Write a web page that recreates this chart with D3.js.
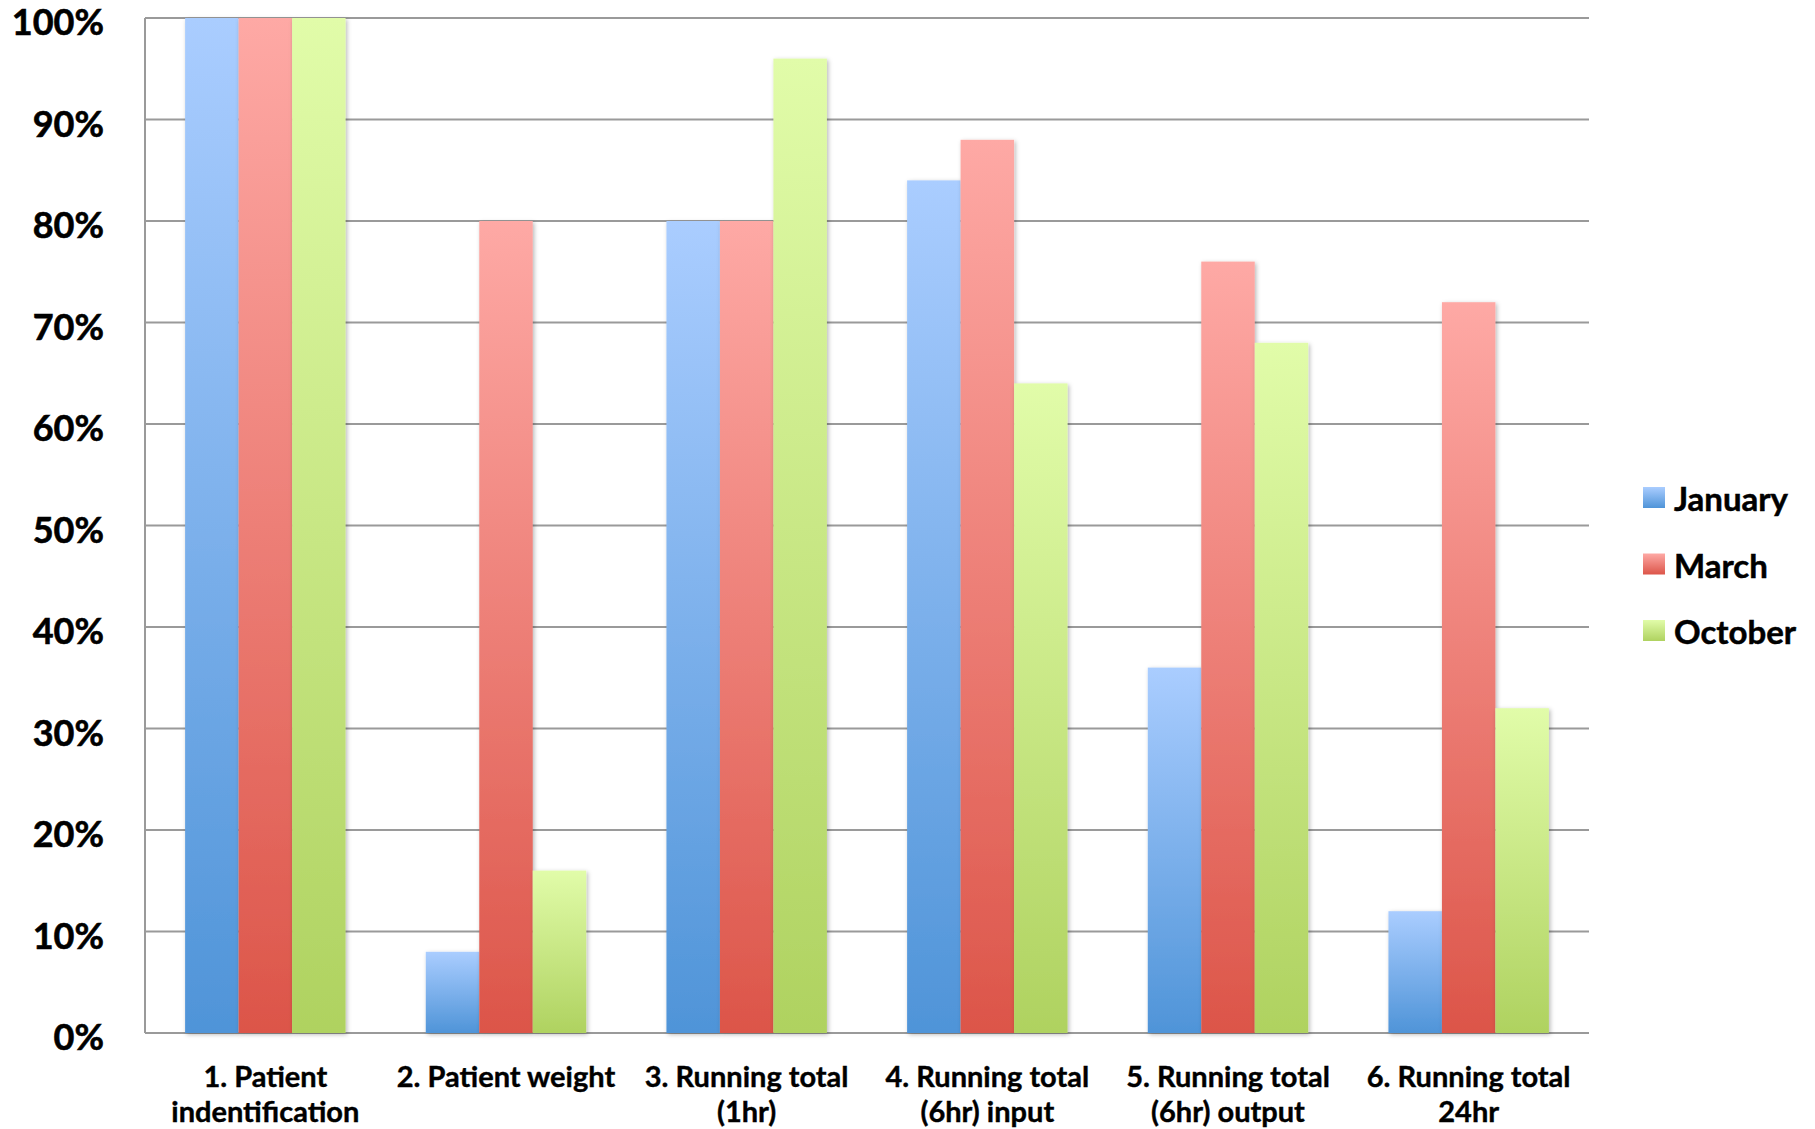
<!DOCTYPE html>
<html>
<head>
<meta charset="utf-8">
<script src="https://cdn.jsdelivr.net/npm/d3@7"></script>
<style>
  body { margin: 0; background: #fff; }
  text { font-family: Lato, "Open Sans", sans-serif; font-weight: bold; fill: #000; }
</style>
</head>
<body>
<script>
// Define data
let categories = [
  ['1. Patient', 'indentification'],
  ['2. Patient weight'],
  ['3. Running total', '(1hr)'],
  ['4. Running total', '(6hr) input'],
  ['5. Running total', '(6hr) output'],
  ['6. Running total', '24hr']
];
let seriesNames = ['January', 'March', 'October'];
let january = [100, 8, 80, 84, 36, 12];
let march   = [100, 80, 80, 88, 76, 72];
let october = [100, 16, 96, 64, 68, 32];
let yTicks = [0, 10, 20, 30, 40, 50, 60, 70, 80, 90, 100];

let seriesValues = [january, march, october];

// colours: top / bottom of each bar gradient
let gradColors = [
  ['#aacdff', '#4f94d8'],
  ['#fea9a5', '#dc5549'],
  ['#e1fca9', '#afd260']
];

let width = 1815, height = 1129;
let margin = { top: 18, bottom: 96, left: 145, right: 226 };

let svg = d3.select('body')
  .append('svg')
  .attr('width', width)
  .attr('height', height);

let defs = svg.append('defs');
gradColors.forEach((c, i) => {
  let g = defs.append('linearGradient')
    .attr('id', 'grad' + i)
    .attr('x1', 0).attr('y1', 0).attr('x2', 0).attr('y2', 1);
  g.append('stop').attr('offset', '0%').attr('stop-color', c[0]);
  g.append('stop').attr('offset', '100%').attr('stop-color', c[1]);
});

let shadow = defs.append('filter')
  .attr('id', 'shadow')
  .attr('x', '-20%').attr('y', '-5%').attr('width', '140%').attr('height', '110%');
shadow.append('feDropShadow')
  .attr('dx', 1.5).attr('dy', 1.5)
  .attr('stdDeviation', 2)
  .attr('flood-color', '#000')
  .attr('flood-opacity', 0.28);

// y scale
let yScale = d3.scaleLinear()
  .domain([0, 100])
  .range([height - margin.bottom, margin.top]);

// x scales
let xScale = d3.scaleBand()
  .domain(d3.range(categories.length))
  .range([margin.left, width - margin.right])
  .paddingInner(1 / 3)
  .paddingOuter(1 / 6);

let xSub = d3.scaleBand()
  .domain(d3.range(seriesNames.length))
  .range([0, xScale.bandwidth()]);

// gridlines
svg.append('g')
  .selectAll('line')
  .data(yTicks)
  .enter()
  .append('line')
  .attr('x1', margin.left)
  .attr('x2', width - margin.right)
  .attr('y1', d => yScale(d))
  .attr('y2', d => yScale(d))
  .style('stroke', '#9a9a9a')
  .style('stroke-width', 2);

// y axis line
svg.append('line')
  .attr('x1', margin.left).attr('x2', margin.left)
  .attr('y1', yScale(100)).attr('y2', yScale(0))
  .style('stroke', '#9a9a9a')
  .style('stroke-width', 2);

// y tick labels
svg.append('g')
  .selectAll('text')
  .data(yTicks)
  .enter()
  .append('text')
  .attr('x', 104)
  .attr('y', d => yScale(d) + 17)
  .attr('text-anchor', 'end')
  .style('font-size', '36px')
  .style('stroke', '#000')
  .style('stroke-width', 0.6)
  .text(d => d + '%');

// bars
let groups = svg.append('g')
  .selectAll('g')
  .data(categories.map((c, i) => i))
  .enter()
  .append('g')
  .attr('transform', i => `translate(${xScale(i)},0)`);

groups.selectAll('rect')
  .data(i => seriesValues.map((vals, s) => ({ s: s, v: vals[i] })))
  .enter()
  .append('rect')
  .attr('x', d => xSub(d.s))
  .attr('y', d => yScale(d.v))
  .attr('width', xSub.bandwidth())
  .attr('height', d => yScale(0) - yScale(d.v))
  .attr('filter', 'url(#shadow)')
  .style('fill', d => `url(#grad${d.s})`);

// x labels
let xLabels = svg.append('g')
  .selectAll('text')
  .data(categories)
  .enter()
  .append('text')
  .attr('text-anchor', 'middle')
  .style('font-size', '29px')
  .style('stroke', '#000')
  .style('stroke-width', 0.4);

xLabels.selectAll('tspan')
  .data((d, i) => d.map(line => ({ line: line, i: i })))
  .enter()
  .append('tspan')
  .attr('x', d => xScale(d.i) + xScale.bandwidth() / 2)
  .attr('y', (d, j) => 1087 + j * 35)
  .text(d => d.line);

// legend
let legend = svg.append('g')
  .selectAll('g')
  .data(seriesNames)
  .enter()
  .append('g')
  .attr('transform', (d, i) => `translate(1643,${487 + i * 66.5})`);

legend.append('rect')
  .attr('width', 22)
  .attr('height', 21)
  .style('fill', (d, i) => `url(#grad${i})`);

legend.append('text')
  .attr('x', 31)
  .attr('y', 24)
  .style('font-size', '33px')
  .style('stroke', '#000')
  .style('stroke-width', 0.5)
  .text(d => d);
</script>
</body>
</html>
